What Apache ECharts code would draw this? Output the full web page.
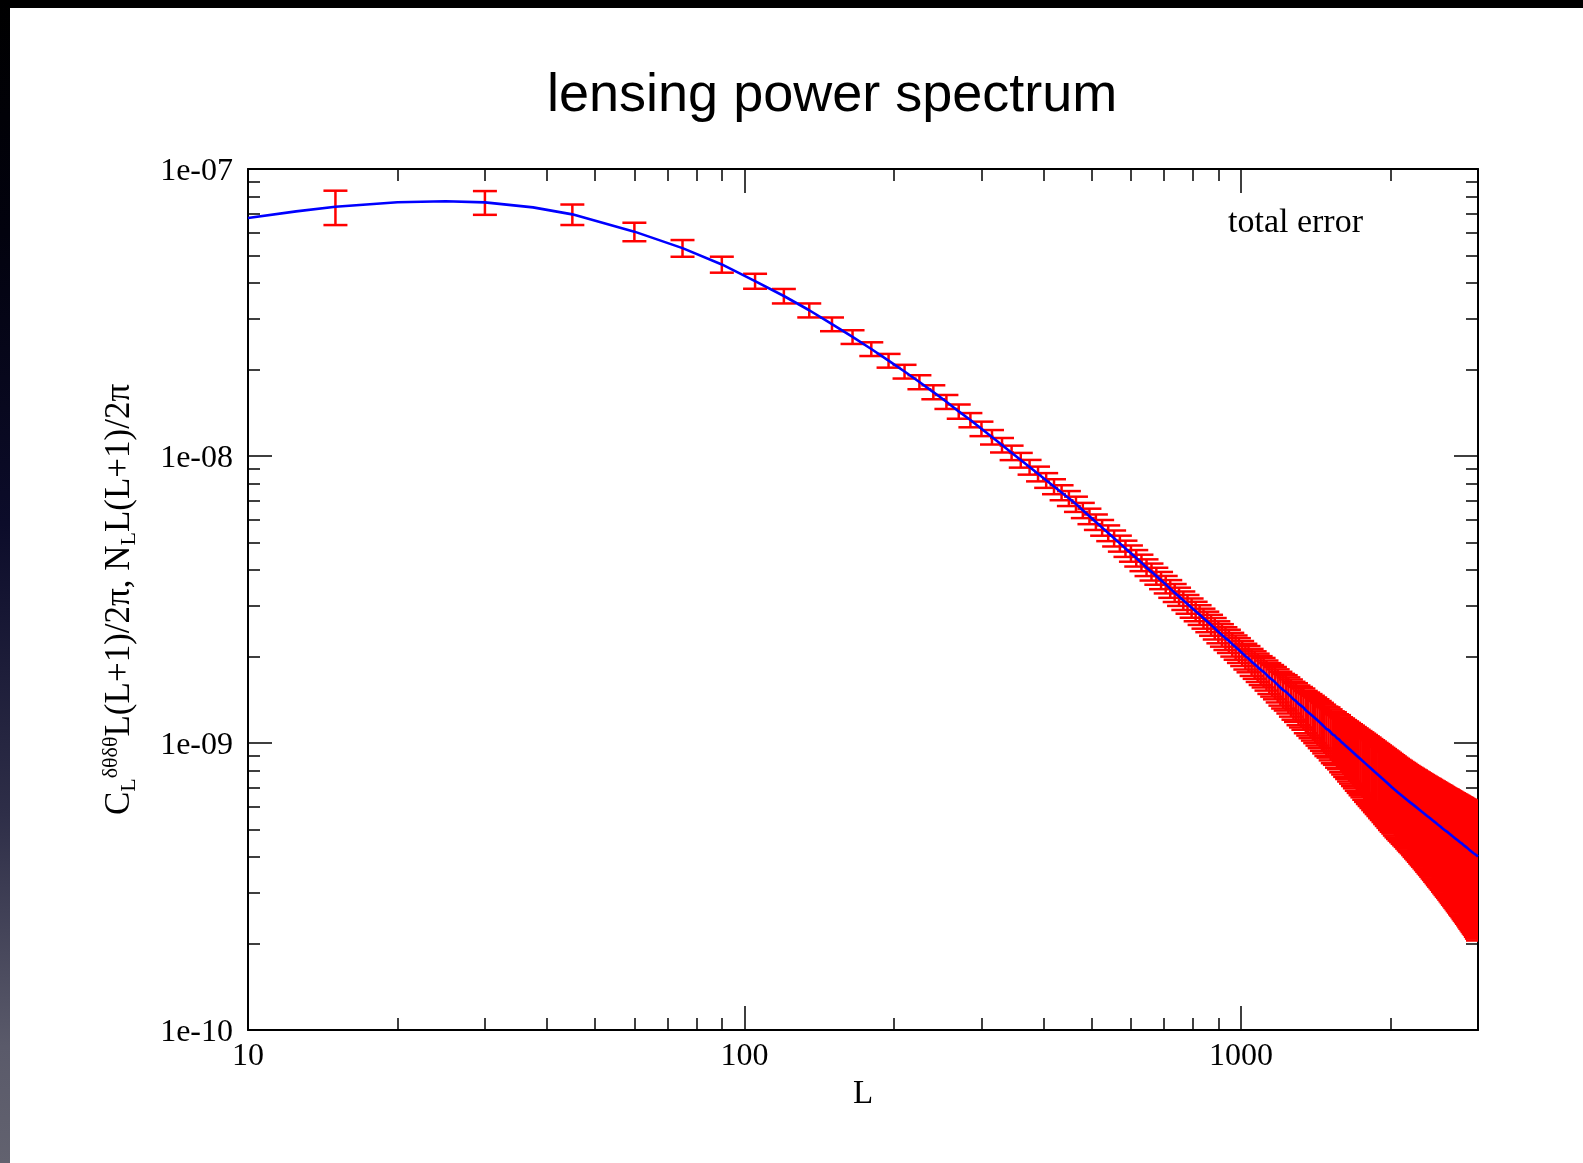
<!DOCTYPE html>
<html>
<head>
<meta charset="utf-8">
<title>lensing power spectrum</title>
<script src="https://cdn.jsdelivr.net/npm/echarts@6/dist/echarts.min.js"></script>
<style>
    html, body { margin: 0; padding: 0; background: #fff; }
    #slide_top { position: absolute; left: 0; top: 0; width: 1583px; height: 8px; background: #000; }
    #slide_left { position: absolute; left: 0; top: 0; width: 10px; height: 1163px;
        background: linear-gradient(to bottom, #000 0%, #02020e 20%, #0c0c2a 45%, #2e2e48 70%, #5a5a6a 90%, #62626f 100%); }
    #lensing { position: absolute; left: 0; top: 0; width: 1583px; height: 1163px; }
</style>
</head>
<body>
<div id="slide_top"></div>
<div id="slide_left"></div>
<div id="lensing"></div>
<script>
// bin centres (L) of the error bars
var bin_L = [
    15, 30, 45, 60, 75, 90, 105, 120, 135, 150,
    165, 180, 195, 210, 225, 240, 255, 270, 285, 300,
    315, 330, 345, 360, 375, 390, 405, 420, 435, 450,
    465, 480, 495, 510, 525, 540, 555, 570, 585, 600,
    615, 630, 645, 660, 675, 690, 705, 720, 735, 750,
    765, 780, 795, 810, 825, 840, 855, 870, 885, 900,
    915, 930, 945, 960, 975, 990, 1005, 1020, 1035, 1050,
    1065, 1080, 1095, 1110, 1125, 1140, 1155, 1170, 1185, 1200,
    1215, 1230, 1245, 1260, 1275, 1290, 1305, 1320, 1335, 1350,
    1365, 1380, 1395, 1410, 1425, 1440, 1455, 1470, 1485, 1500,
    1515, 1530, 1545, 1560, 1575, 1590, 1605, 1620, 1635, 1650,
    1665, 1680, 1695, 1710, 1725, 1740, 1755, 1770, 1785, 1800,
    1815, 1830, 1845, 1860, 1875, 1890, 1905, 1920, 1935, 1950,
    1965, 1980, 1995, 2010, 2025, 2040, 2055, 2070, 2085, 2100,
    2115, 2130, 2145, 2160, 2175, 2190, 2205, 2220, 2235, 2250,
    2265, 2280, 2295, 2310, 2325, 2340, 2355, 2370, 2385, 2400,
    2415, 2430, 2445, 2460, 2475, 2490, 2505, 2520, 2535, 2550,
    2565, 2580, 2595, 2610, 2625, 2640, 2655, 2670, 2685, 2700,
    2715, 2730, 2745, 2760, 2775, 2790, 2805, 2820, 2835, 2850,
    2865, 2880, 2895, 2910, 2925, 2940, 2955, 2970, 2985, 3000
];
// C_L L(L+1)/2pi at the bin centres, in units of 1e-10
var bin_cl = [
    739, 765, 695, 605, 530, 465, 407, 361, 322, 288,
    260, 236, 215, 197, 181, 167, 154.5, 143, 133.5, 124.5,
    116.4, 109.2, 102.7, 96.8, 91.5, 86.7, 82.3, 78.3, 74.6, 71.2,
    68.0, 64.7, 61.7, 58.9, 56.3, 53.9, 51.7, 49.6, 47.6, 45.8,
    44.1, 42.5, 40.9, 39.5, 38.2, 36.9, 35.7, 34.5, 33.4, 32.4,
    31.4, 30.5, 29.6, 28.8, 28.0, 27.2, 26.5, 25.8, 25.1, 24.4,
    23.8, 23.2, 22.7, 22.1, 21.6, 21.1, 20.6, 20.1, 19.7, 19.2,
    18.8, 18.4, 18.0, 17.7, 17.3, 16.9, 16.6, 16.3, 15.95, 15.6,
    15.3, 15.1, 14.8, 14.5, 14.2, 14.0, 13.7, 13.5, 13.3, 13.0,
    12.8, 12.6, 12.4, 12.2, 12.0, 11.8, 11.6, 11.4, 11.2, 11.1,
    10.9, 10.7, 10.6, 10.4, 10.3, 10.1, 9.97, 9.82, 9.69, 9.55,
    9.42, 9.29, 9.16, 9.03, 8.91, 8.79, 8.68, 8.56, 8.45, 8.34,
    8.24, 8.13, 8.03, 7.93, 7.83, 7.74, 7.64, 7.55, 7.46, 7.37,
    7.28, 7.20, 7.11, 7.03, 6.95, 6.87, 6.79, 6.72, 6.65, 6.59,
    6.52, 6.46, 6.40, 6.33, 6.27, 6.21, 6.16, 6.10, 6.04, 5.99,
    5.93, 5.88, 5.82, 5.77, 5.72, 5.67, 5.62, 5.57, 5.52, 5.48,
    5.43, 5.38, 5.34, 5.29, 5.25, 5.20, 5.16, 5.12, 5.08, 5.03,
    4.99, 4.95, 4.91, 4.88, 4.84, 4.80, 4.76, 4.72, 4.69, 4.65,
    4.62, 4.58, 4.55, 4.51, 4.48, 4.45, 4.41, 4.38, 4.35, 4.32,
    4.29, 4.25, 4.22, 4.19, 4.16, 4.13, 4.11, 4.08, 4.05, 4.02
];
// total error of each bin, as a fraction of the bin value
var bin_err = [
    .137, .095, .082, .074, .067, .064, .060, .058, .056, .055,
    .055, .055, .055, .055, .056, .056, .056, .057, .057, .058,
    .058, .058, .058, .059, .059, .059, .059, .060, .060, .060,
    .061, .061, .062, .062, .063, .063, .064, .064, .065, .065,
    .066, .066, .067, .068, .068, .069, .070, .071, .072, .073,
    .074, .075, .077, .078, .079, .080, .082, .084, .086, .088,
    .090, .091, .093, .095, .097, .099, .100, .103, .105, .108,
    .110, .113, .115, .118, .120, .123, .126, .129, .132, .135,
    .138, .141, .144, .148, .151, .154, .158, .161, .164, .168,
    .171, .175, .178, .181, .184, .187, .190, .193, .196, .199,
    .202, .205, .208, .211, .214, .217, .221, .224, .227, .231,
    .234, .238, .241, .245, .248, .252, .255, .259, .262, .265,
    .268, .270, .273, .276, .278, .281, .284, .286, .289, .292,
    .294, .297, .300, .302, .304, .307, .309, .311, .313, .315,
    .317, .319, .321, .323, .326, .328, .330, .333, .336, .339,
    .341, .344, .347, .350, .352, .355, .358, .361, .364, .367,
    .370, .373, .376, .379, .382, .385, .388, .391, .394, .397,
    .400, .403, .406, .409, .412, .415, .418, .421, .424, .427,
    .430, .433, .436, .439, .442, .445, .448, .451, .454, .457,
    .460, .463, .466, .469, .472, .475, .478, .482, .486, .490
];
// theory curve below the third bin (same units)
var head_L = [10, 12.5, 15, 20, 25, 30, 37.5, 45];
var head_cl = [675, 712, 739, 766, 772, 765, 735, 695];

var y_tick_labels = ['1e-10', '1e-09', '1e-08', '1e-07'];
var UNIT = 1e-10;

var serif = "'Liberation Serif', 'Times New Roman', Times, serif";

var err_data = bin_L.map(function (L, i) {
    var v = bin_cl[i];
    return [L, v * (1 - bin_err[i]) * UNIT, v * (1 + bin_err[i]) * UNIT];
});
var line_data = head_L.map(function (L, i) {
    return [L, head_cl[i] * UNIT];
});
bin_L.forEach(function (L, i) {
    if (L > 45) line_data.push([L, bin_cl[i] * UNIT]);
});

function xaxis(pos, show_label) {
    return {
        type: 'log', logBase: 10, min: 10, max: 3000, position: pos,
        name: show_label ? 'L' : '', nameLocation: 'middle', nameGap: 43,
        nameTextStyle: {fontFamily: serif, fontSize: 33, color: '#000'},
        axisLine: {show: true, onZero: false, lineStyle: {color: '#000', width: 2}},
        axisTick: {show: true, inside: true, length: 24, lineStyle: {color: '#000', width: 1.5}},
        minorTick: {show: true, splitNumber: 9, length: 12, lineStyle: {color: '#000', width: 1.5}},
        axisLabel: {
            show: show_label, margin: 11, showMaxLabel: false,
            fontFamily: serif, fontSize: 32, color: '#000',
            formatter: function (v) { return String(Math.round(v)); }
        },
        splitLine: {show: false}, minorSplitLine: {show: false}
    };
}

function yaxis(pos, show_label) {
    return {
        type: 'log', logBase: 10, min: 1e-10, max: 1e-7, position: pos,
        name: show_label ? '{C|C}{sub|L}{sup|δθδθ}L(L+1)/2π, N{sub|L}L(L+1)/2π' : '',
        nameLocation: 'middle', nameGap: 108, nameRotate: 90,
        nameTextStyle: {
            fontFamily: serif, fontSize: 35, color: '#000', lineHeight: 40,
            rich: {
                C: {fontFamily: serif, fontSize: 35, color: '#000', lineHeight: 40},
                sub: {fontFamily: serif, fontSize: 22, color: '#000', lineHeight: 21, verticalAlign: 'bottom'},
                sup: {fontFamily: serif, fontSize: 22, color: '#000', lineHeight: 4, verticalAlign: 'top'}
            }
        },
        axisLine: {show: true, onZero: false, lineStyle: {color: '#000', width: 2}},
        axisTick: {show: true, inside: true, length: 24, lineStyle: {color: '#000', width: 1.5}},
        minorTick: {show: true, splitNumber: 9, length: 12, lineStyle: {color: '#000', width: 1.5}},
        axisLabel: {
            show: show_label, margin: 15, verticalAlign: 'top', lineHeight: 6,
            fontFamily: serif, fontSize: 32, color: '#000',
            formatter: function (v) {
                return y_tick_labels[Math.round(Math.log10(v)) + 10];
            }
        },
        splitLine: {show: false}, minorSplitLine: {show: false}
    };
}

var option = {
    backgroundColor: 'transparent',
    animation: false,
    title: [
        {
            text: 'lensing power spectrum', left: 547, top: 69, padding: 0,
            textStyle: {fontFamily: "'Liberation Sans', Arial, Helvetica, sans-serif", fontSize: 54, fontWeight: 'normal', color: '#000'}
        },
        {
            text: 'total error', left: 1228, top: 206, padding: 0,
            textStyle: {fontFamily: serif, fontSize: 34, fontWeight: 'normal', color: '#000'}
        }
    ],
    grid: {left: 248, top: 169, right: 105, bottom: 133, containLabel: false},
    xAxis: [xaxis('bottom', true), xaxis('top', false)],
    yAxis: [yaxis('left', true), yaxis('right', false)],
    series: [
        {
            name: 'total error',
            type: 'custom',
            xAxisIndex: 0, yAxisIndex: 0,
            encode: {x: 0, y: [1, 2]},
            data: err_data,
            z: 2,
            renderItem: function (params, api) {
                var L = api.value(0);
                var lo = api.coord([L, api.value(1)]);
                var hi = api.coord([L, api.value(2)]);
                var half = 12;
                var st = {stroke: '#ff0000', lineWidth: 2.5};
                var cs = params.coordSys;
                return {
                    type: 'group',
                    clipPath: {type: 'rect', shape: {x: cs.x, y: cs.y, width: cs.width, height: cs.height}},
                    children: [
                        {type: 'line', shape: {x1: hi[0], y1: hi[1], x2: lo[0], y2: lo[1]}, style: st},
                        {type: 'line', shape: {x1: hi[0] - half, y1: hi[1], x2: hi[0] + half, y2: hi[1]}, style: st},
                        {type: 'line', shape: {x1: lo[0] - half, y1: lo[1], x2: lo[0] + half, y2: lo[1]}, style: st}
                    ]
                };
            }
        },
        {
            name: 'theory',
            type: 'line',
            xAxisIndex: 0, yAxisIndex: 0,
            data: line_data,
            showSymbol: false,
            smooth: false,
            clip: true,
            z: 3,
            lineStyle: {color: '#0000ff', width: 2.6}
        }
    ]
};

var chart = echarts.init(document.getElementById('lensing'));
chart.setOption(option);
</script>
</body>
</html>
